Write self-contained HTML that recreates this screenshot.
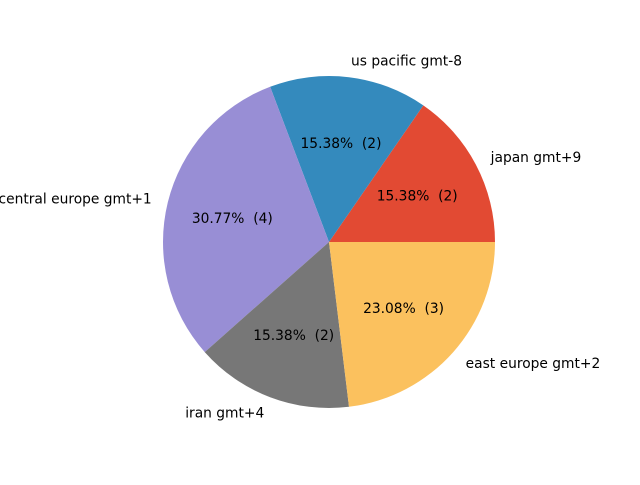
<!DOCTYPE html>
<html>
<head>
<meta charset="utf-8">
<style>
  html, body { margin: 0; padding: 0; background: #fff; }
  svg text { font-family: "DejaVu Sans", "Liberation Sans", sans-serif; font-size: 13.8px; fill: #000; white-space: pre; }
</style>
</head>
<body>
<svg id="chart" width="640" height="480" xmlns="http://www.w3.org/2000/svg"></svg>
<script>
const categories = ["japan gmt+9", "us pacific gmt-8", "central europe gmt+1", "iran gmt+4", "east europe gmt+2"];
const counts = [2, 2, 4, 2, 3];
const colors = ["#E24A33", "#348ABD", "#988ED5", "#777777", "#FBC15E"];

const svg = document.getElementById('chart');
const NS = 'http://www.w3.org/2000/svg';
const cx = 329, cy = 242, r = 166;
const total = counts.reduce((a, b) => a + b, 0);
function pt(angleDeg, rad) {
  const a = angleDeg * Math.PI / 180;
  return [cx + rad * Math.cos(a), cy - rad * Math.sin(a)];
}
let start = 0;
counts.forEach((v, i) => {
  const sweep = v / total * 360;
  const end = start + sweep;
  const [x1, y1] = pt(start, r);
  const [x2, y2] = pt(end, r);
  const large = sweep > 180 ? 1 : 0;
  const path = document.createElementNS(NS, 'path');
  path.setAttribute('d', `M${cx},${cy} L${x1},${y1} A${r},${r} 0 ${large} 0 ${x2},${y2} Z`);
  path.setAttribute('fill', colors[i]);
  
  
  svg.appendChild(path);

  const mid = (start + end) / 2;
  const [lx, ly] = pt(mid, r * 1.1);
  const lab = document.createElementNS(NS, 'text');
  lab.setAttribute('x', lx);
  lab.setAttribute('y', ly + 1);
  lab.setAttribute('dominant-baseline', 'central');
  lab.setAttribute('text-anchor', Math.cos(mid * Math.PI / 180) >= 0 ? 'start' : 'end');
  lab.textContent = categories[i];
  
  
  svg.appendChild(lab);

  const [px, py] = pt(mid, r * 0.6);
  const pct = document.createElementNS(NS, 'text');
  pct.setAttribute('x', px);
  pct.setAttribute('y', py + 1);
  pct.setAttribute('dominant-baseline', 'central');
  pct.setAttribute('text-anchor', 'middle');
  pct.textContent = (v / total * 100).toFixed(2) + '%  (' + v + ')';
  
  
  svg.appendChild(pct);

  start = end;
});
</script>
</body>
</html>
